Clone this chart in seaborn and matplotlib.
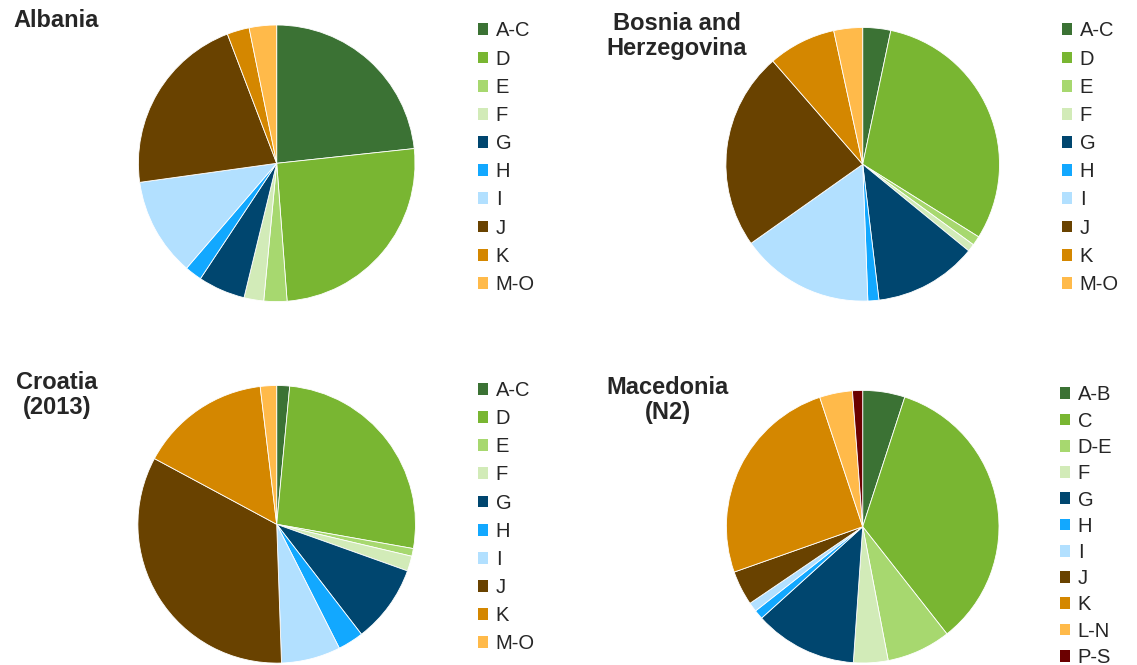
import matplotlib
matplotlib.use("Agg")
import matplotlib.pyplot as plt
from matplotlib.patches import Patch
import seaborn as sns

sns.set_theme(style="white")
plt.rcParams['font.family'] = ['Liberation Sans', 'DejaVu Sans']

# Sector shares (%), clockwise from 12 o'clock
sectors = ["A-C", "D", "E", "F", "G", "H", "I", "J", "K", "M-O"]
albania = [23.3, 25.5, 2.7, 2.3, 5.5, 2.0, 11.5, 21.4, 2.6, 3.2]
bosnia = [3.3, 30.6, 1.1, 0.9, 12.2, 1.3, 15.8, 23.4, 8.0, 3.4]
croatia = [1.5, 26.3, 0.9, 1.75, 9.1, 3.0, 6.9, 33.4, 15.25, 1.9]

sectors_mk = ["A-B", "C", "D-E", "F", "G", "H", "I", "J", "K", "L-N", "P-S"]
macedonia = [5.0, 34.4, 7.6, 4.1, 12.2, 1.1, 1.1, 4.1, 25.3, 3.9, 1.2]

colors = ["#3B7234", "#79B632", "#A7D86F", "#D2EBB8", "#00466F",
          "#12A8FF", "#B2E0FF", "#694200", "#D48700", "#FFBA4A"]
colors_mk = colors + ["#6B0000"]
palette = sns.color_palette(colors)
palette_mk = sns.color_palette(colors_mk)

W, H = 1137, 665
fig = plt.figure(figsize=(W / 100, H / 100), dpi=100)


def px_axes(cx, cy, r):
    return fig.add_axes([(cx - r) / W, (H - cy - r) / H, 2 * r / W, 2 * r / H])


panels = [
    (albania, sectors, palette, (276.7, 163.3, 138.3), "Albania", (13, 9, "left"), (478, 21.5, 0.455)),
    (bosnia, sectors, palette, (862.7, 164.3, 136.8), "Bosnia and\nHerzegovina", (677, 12, "center"), (1062, 21.5, 0.455)),
    (croatia, sectors, palette, (276.7, 524.3, 138.8), "Croatia\n(2013)", (57, 371, "center"), (478, 381, 0.455)),
    (macedonia, sectors_mk, palette_mk, (862.7, 526.7, 136.3), "Macedonia\n(N2)", (668, 376, "center"), (1060, 385.5, 0.36)),
]

for shares, labels, pal, (cx, cy, r), title, (tx, ty, tha), (lx, ly, lsp) in panels:
    ax = px_axes(cx, cy, r)
    ax.pie(shares, colors=pal, startangle=90, counterclock=False, radius=1,
           wedgeprops=dict(edgecolor="white", linewidth=0.6))
    ax.set_xlim(-1.0, 1.0)
    ax.set_ylim(-1.0, 1.0)
    ax.set_aspect("equal")
    ax.axis("off")

    fig.text(tx / W, 1 - ty / H, title, ha=tha, va="top", fontsize=17,
             fontweight="bold", linespacing=1.12, multialignment="center")

    handles = [Patch(facecolor=c, edgecolor="none") for c in pal]
    fig.legend(handles, labels, loc="upper left",
               bbox_to_anchor=(lx / W, 1 - ly / H), bbox_transform=fig.transFigure,
               frameon=False, fontsize=14.5, borderpad=0, borderaxespad=0,
               handlelength=0.52, handleheight=0.52, handletextpad=0.36,
               labelspacing=lsp)

fig.savefig("out.png", dpi=100, facecolor="white")
